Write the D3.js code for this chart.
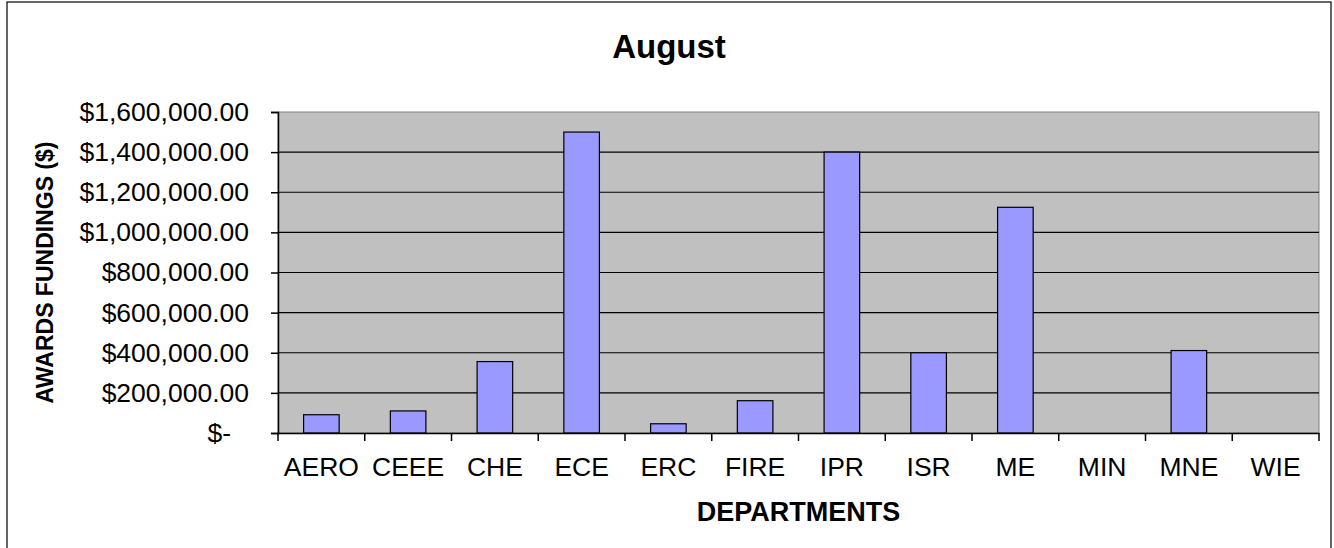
<!DOCTYPE html>
<html>
<head>
<meta charset="utf-8">
<script src="https://cdn.jsdelivr.net/npm/d3@7"></script>
<style>
  body { margin: 0; background: #fff; }
  text { font-family: "Liberation Sans", Arial, sans-serif; }
</style>
</head>
<body>
<div id="canvas"></div>
<script>
// departments and award amounts for August
const departments = ['AERO', 'CEEE', 'CHE', 'ECE', 'ERC', 'FIRE', 'IPR', 'ISR', 'ME', 'MIN', 'MNE', 'WIE'];
const awards = [91000, 110000, 356000, 1500000, 46000, 161000, 1400000, 400000, 1125000, 0, 411000, 0];
const yTicks = [0, 200000, 400000, 600000, 800000, 1000000, 1200000, 1400000, 1600000];

const width = 1334, height = 548;
const margin = { top: 112, left: 278, right: 15, bottom: 115 };

const svg = d3.select('#canvas').append('svg')
    .attr('width', width)
    .attr('height', height);

// outer chart border
svg.append('rect')
    .attr('x', 7).attr('y', 2)
    .attr('width', 1324).attr('height', 550)
    .attr('fill', 'none')
    .attr('stroke', '#000')
    .attr('stroke-width', 1.2);

const x = d3.scaleBand()
    .domain(departments)
    .range([margin.left, width - margin.right])
    .paddingInner(0).paddingOuter(0);

const y = d3.scaleLinear()
    .domain([0, 1600000])
    .range([height - margin.bottom, margin.top]);

// plot area
svg.append('rect')
    .attr('x', margin.left).attr('y', margin.top)
    .attr('width', width - margin.right - margin.left)
    .attr('height', y(0) - margin.top)
    .attr('fill', '#c0c0c0')
    .attr('stroke', '#808080');

// gridlines
svg.append('g')
    .selectAll('line')
    .data(yTicks.filter(d => d > 0 && d < 1600000))
    .join('line')
    .attr('x1', margin.left).attr('x2', width - margin.right)
    .attr('y1', d => y(d)).attr('y2', d => y(d))
    .attr('stroke', '#000').attr('stroke-width', 1.2);

// bars
const bw = x.bandwidth() * 0.41;
svg.append('g')
    .selectAll('rect')
    .data(awards)
    .join('rect')
    .attr('x', (d, i) => x(departments[i]) + (x.bandwidth() - bw) / 2)
    .attr('y', d => y(d))
    .attr('width', bw)
    .attr('height', d => y(0) - y(d))
    .attr('fill', '#9999ff')
    .attr('stroke', d => d > 0 ? '#000' : 'none')
    .attr('stroke-width', 1.2);

// y axis
const fmt = d3.format('$,.2f');
const yAxis = svg.append('g')
    .attr('transform', `translate(${margin.left},0)`)
    .call(d3.axisLeft(y).tickValues(yTicks).tickSize(7).tickPadding(22)
        .tickFormat(d => d === 0 ? '$-' : fmt(d)));
yAxis.select('.domain').attr('stroke', '#000').attr('stroke-width', 1.5);
yAxis.selectAll('.tick line').attr('stroke', '#000').attr('stroke-width', 1.5);
yAxis.selectAll('.tick text')
    .attr('font-size', 26.5)
    .attr('fill', '#000')
    .attr('dx', d => d === 0 ? -18 : 0)
    .style('font-family', '"Liberation Sans", Arial, sans-serif');

// x axis
const xAxis = svg.append('g')
    .attr('transform', `translate(0,${y(0)})`)
    .call(d3.axisBottom(x).tickSize(0).tickPadding(24));
xAxis.select('.domain').attr('stroke', '#000').attr('stroke-width', 1.5);
xAxis.selectAll('.tick text')
    .attr('font-size', 26.5)
    .attr('fill', '#000')
    .style('font-family', '"Liberation Sans", Arial, sans-serif');
xAxis.selectAll('line.sep')
    .data(departments.map(d => x(d)).concat([x.range()[1]]))
    .join('line')
    .attr('class', 'sep')
    .attr('x1', d => d).attr('x2', d => d)
    .attr('y1', 0).attr('y2', 8)
    .attr('stroke', '#000').attr('stroke-width', 1.5);

// titles
svg.append('text')
    .attr('x', 669).attr('y', 58)
    .attr('text-anchor', 'middle')
    .attr('font-size', 33).attr('font-weight', 'bold')
    .text('August');

svg.append('text')
    .attr('x', (margin.left + width - margin.right) / 2).attr('y', 521)
    .attr('text-anchor', 'middle')
    .attr('font-size', 27).attr('font-weight', 'bold')
    .text('DEPARTMENTS');

svg.append('text')
    .attr('transform', `translate(53,${(margin.top + y(0)) / 2}) rotate(-90)`)
    .attr('text-anchor', 'middle')
    .attr('font-size', 23).attr('font-weight', 'bold')
    .text('AWARDS FUNDINGS ($)');
</script>
</body>
</html>
